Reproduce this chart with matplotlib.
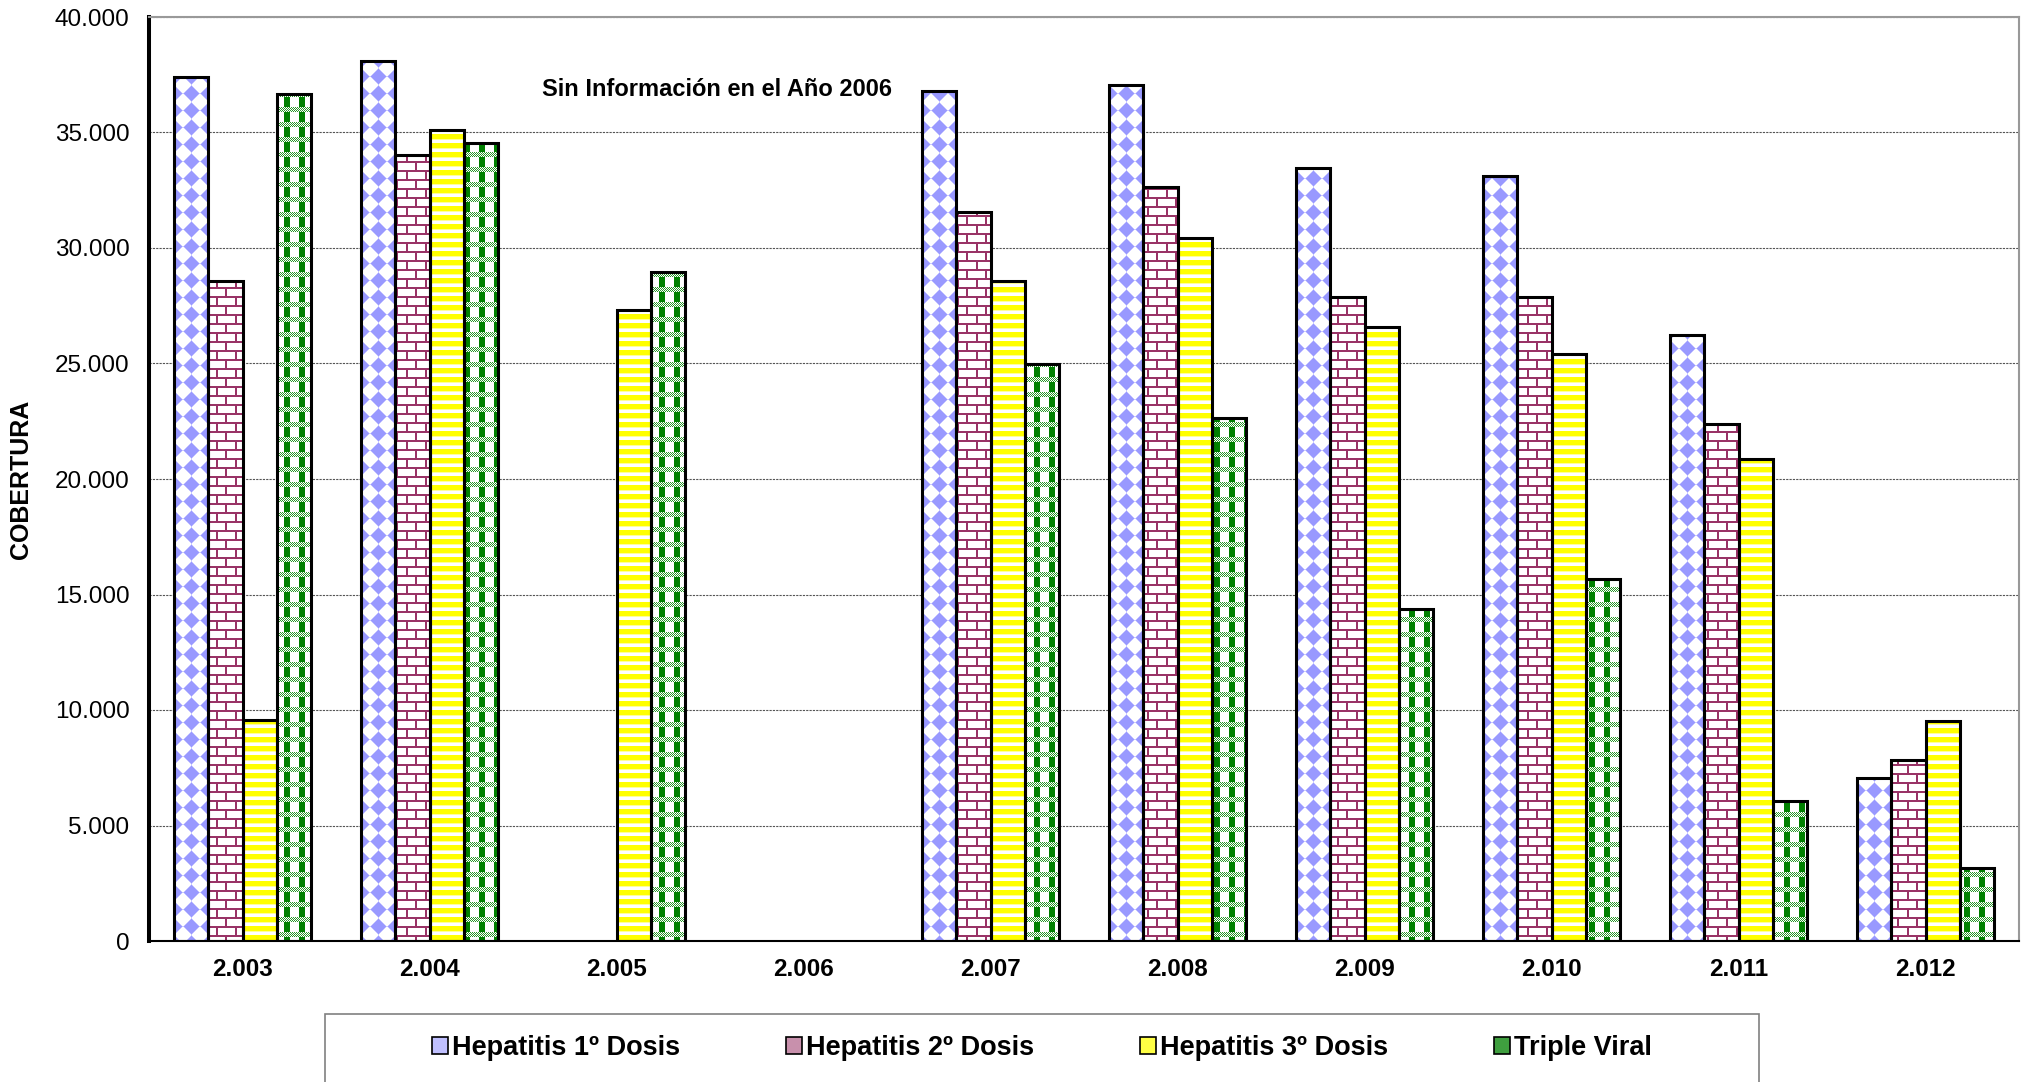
import numpy as np
import matplotlib
matplotlib.use('Agg')
import matplotlib.pyplot as plt
from matplotlib.path import Path
from matplotlib.patches import Rectangle, Patch
from matplotlib.ticker import FuncFormatter, MultipleLocator

nan = np.nan
years = ['2.003', '2.004', '2.005', '2.006', '2.007', '2.008', '2.009', '2.010', '2.011', '2.012']
hep1 = [37400, 38080, nan, nan, 36790, 37070, 33460, 33130, 26250, 7040]
hep2 = [28560, 34030, nan, nan, 31550, 32620, 27890, 27890, 22370, 7830]
hep3 = [9580, 35100, 27320, nan, 28560, 30420, 26590, 25410, 20850, 9520]
triple = [36680, 34540, 28960, nan, 24960, 22650, 14370, 15660, 6080, 3150]
series_names = ['Hepatitis 1º Dosis', 'Hepatitis 2º Dosis', 'Hepatitis 3º Dosis', 'Triple Viral']
note_text = 'Sin Información en el Año 2006'
y_label = 'COBERTURA'

plt.rcParams['font.family'] = ['Liberation Sans', 'DejaVu Sans']

FW, FH = 2037, 1082
fig = plt.figure(figsize=(FW / 100, FH / 100), dpi=100)
L, R, T, B = 149, 2019, 17, 941
ax = fig.add_axes([L / FW, 1 - B / FH, (R - L) / FW, (B - T) / FH])
W, H = R - L, B - T

# ---- pixel patterns ----
xx, yy = np.meshgrid(np.arange(W), np.arange(H))

def rgba(hexc):
    hexc = hexc.lstrip('#')
    return np.array([int(hexc[i:i + 2], 16) / 255 for i in (0, 2, 4)] + [1.0])

def make_img(mask_colors):
    img = np.ones((H, W, 4))
    for mask, col in mask_colors:
        img[mask] = rgba(col)
    return img

# diamonds (lavender)
p = 17
u = (xx % p) - (p - 1) / 2
v = (yy % p) - (p - 1) / 2
d = np.abs(u) + np.abs(v)
pat1 = make_img([(d <= p * 0.5, '#C8C8FF'), (d <= p * 0.44, '#9999FF')])

# bricks (maroon)
r, bw = 9, 19
row = yy // r
hmort = (yy % r) < 2
vmort = ((xx + (row % 2) * (bw // 2)) % bw) < 2
pat2 = make_img([(hmort | vmort, '#993366')])

# horizontal stripes (yellow)
pat3 = make_img([((yy % 9) < 5, '#FFFF00'), ((yy % 9) == 5, '#FFFF99')])

# trellis (green)
q = 15
vband = (xx % q) < 6
hband = (yy % q) < 5
chk = ((xx + yy) % 2) == 0
pat4 = make_img([(vband & ~hband, '#008000'), (hband & chk, '#2a952a'), (hband & ~chk, '#ffffff')])

patterns = [pat1, pat2, pat3, pat4]

# ---- bars ----
x = np.arange(len(years))
w = 0.183
data = [hep1, hep2, hep3, triple]
offsets = [-1.5, -0.5, 0.5, 1.5]
ax.set_xlim(-0.5, len(years) - 0.5)
ax.set_ylim(0, 40000)

for vals, off, pat in zip(data, offsets, patterns):
    vals = np.array(vals, dtype=float)
    ok = ~np.isnan(vals)
    bars = ax.bar(x[ok] + off * w, vals[ok], width=w, facecolor='none',
                  edgecolor='black', linewidth=2.2, zorder=3)
    paths = [b.get_path().transformed(b.get_patch_transform()) for b in bars]
    cp = Path.make_compound_path(*paths)
    im = ax.imshow(pat, extent=(0, 1, 0, 1), transform=ax.transAxes, origin='upper',
                   aspect='auto', interpolation='nearest', zorder=2)
    im.set_clip_path(cp, ax.transData)

ax.set_xlim(-0.5, len(years) - 0.5)
ax.set_ylim(0, 40000)

# ---- axes styling ----
ax.yaxis.set_major_locator(MultipleLocator(5000))
ax.yaxis.set_major_formatter(FuncFormatter(lambda v, _: f"{int(round(v)):,}".replace(',', '.')))
ax.set_xticks(x)
ax.set_xticklabels(years, fontsize=17.5, fontweight='bold')
ax.tick_params(axis='x', length=0, pad=12)
ax.tick_params(axis='y', length=0, pad=14, labelsize=17.5)
ax.grid(axis='y', color='#555555', linestyle=(0, (2, 1)), linewidth=0.8, zorder=1)
ax.set_axisbelow(True)

ax.spines['left'].set_linewidth(2.9)
ax.spines['left'].set_color('black')
ax.spines['bottom'].set_linewidth(1.5)
ax.spines['bottom'].set_color('black')
for s in ('top', 'right'):
    ax.spines[s].set_linewidth(1.5)
    ax.spines[s].set_color('#999999')

ax.set_ylabel(y_label, fontsize=18, fontweight='bold')
ax.yaxis.set_label_coords((33 - L) / W, 0.5)

ax.text(2.54, 36840, note_text, ha='center', va='center', fontsize=17, fontweight='bold')

# ---- legend ----
handle_cols = ['#c0c0ff', '#c890ac', '#ffff44', '#3f9f3f']
handles = [Patch(facecolor=c, edgecolor='black', linewidth=1.2) for c in handle_cols]
fig.legend(handles, series_names, loc='center', bbox_to_anchor=(1042 / FW, 1 - 1048 / FH),
           ncol=4, frameon=False, prop={'size': 19.5, 'weight': 'bold'},
           handlelength=0.6, handleheight=0.6, handletextpad=0.15, columnspacing=3.9)
fig.patches.append(Rectangle((325 / FW, -0.05), (1759 - 325) / FW, 0.05 + 1 - 1014 / FH,
                             transform=fig.transFigure, fill=False, edgecolor='#808080',
                             linewidth=1.2))

fig.savefig('out.png', dpi=100)
